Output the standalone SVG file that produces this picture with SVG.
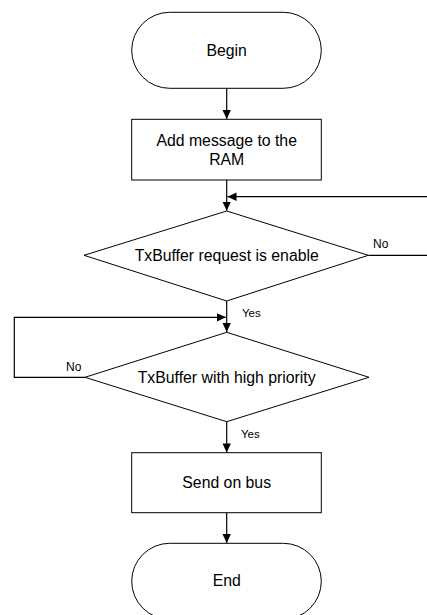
<svg xmlns="http://www.w3.org/2000/svg" width="427" height="615" viewBox="0 0 427 615">
<style>
.shape{fill:#fff;stroke:#000;stroke-width:1}
.conn{fill:none;stroke:#000;stroke-width:1.2}
.t{font-family:"Liberation Sans",Arial,sans-serif;font-size:15.8px;fill:#000;text-anchor:middle}
.lbl{font-family:"Liberation Sans",Arial,sans-serif;font-size:11.5px;fill:#000}
</style>
<defs>
<marker id="arr" markerWidth="10" markerHeight="10" refX="9" refY="5" orient="auto" markerUnits="userSpaceOnUse">
<path d="M0,0.8 L9,5 L0,9.2 Z" fill="#000"/>
</marker>
</defs>
<rect width="427" height="615" fill="#fff"/>
<g id="connectors">
<path class="conn" d="M226.7,88.3 L226.7,119" marker-end="url(#arr)"/>
<path class="conn" d="M226.7,180 L226.7,210.7" marker-end="url(#arr)"/>
<path class="conn" d="M368.3,255.3 L440,255.3 L440,196.7 L227.5,196.7" marker-end="url(#arr)"/>
<path class="conn" d="M226.7,301 L226.7,332" marker-end="url(#arr)"/>
<path class="conn" d="M85,377.3 L14.3,377.3 L14.3,317.3 L225.8,317.3" marker-end="url(#arr)"/>
<path class="conn" d="M226.7,421.7 L226.7,452.4" marker-end="url(#arr)"/>
<path class="conn" d="M226.7,512.7 L226.7,543" marker-end="url(#arr)"/>
<text class="lbl" x="373" y="248" style="font-size:12px">No</text>
<text class="lbl" x="242" y="317">Yes</text>
<text class="lbl" x="66" y="371" style="font-size:12px">No</text>
<text class="lbl" x="241" y="437.5">Yes</text>
</g>
<g id="begin">
<rect class="shape" x="131.7" y="12.3" width="189.6" height="76" rx="38" ry="38"/>
<text class="t" x="226.7" y="56">Begin</text>
</g>
<g id="add">
<rect class="shape" x="131.7" y="119.3" width="189.6" height="60.7"/>
<text class="t" x="226.7" y="145.5">Add message to the</text>
<text class="t" x="226.7" y="165">RAM</text>
</g>
<g id="dec1">
<polygon class="shape" points="226.7,211 368.3,255.3 226.7,301 84,255.3"/>
<text class="t" x="226.7" y="261">TxBuffer request is enable</text>
</g>
<g id="dec2">
<polygon class="shape" points="226.7,332.3 369,377.3 226.7,421.7 85,377.3"/>
<text class="t" x="226.7" y="383">TxBuffer with high priority</text>
</g>
<g id="send">
<rect class="shape" x="131.7" y="452.7" width="189.6" height="60"/>
<text class="t" x="226.7" y="488">Send on bus</text>
</g>
<g id="end">
<rect class="shape" x="131.7" y="543.3" width="189.6" height="76" rx="38" ry="38"/>
<text class="t" x="226.7" y="585.5">End</text>
</g>
</svg>
